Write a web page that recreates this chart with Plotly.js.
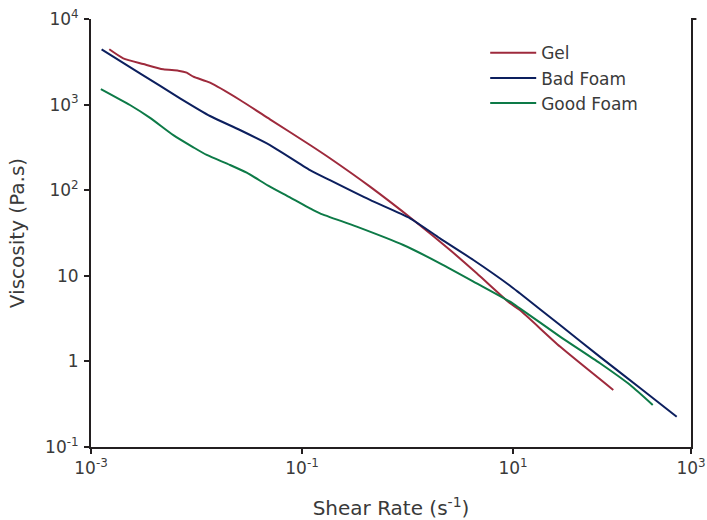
<!DOCTYPE html>
<html>
<head>
<meta charset="utf-8">
<script src="https://cdn.plot.ly/plotly-3.0.1.min.js"></script>
<style>
  html, body { margin: 0; padding: 0; background: #fff; }
  #chart { width: 707px; height: 520px; }
</style>
</head>
<body>
<div id="chart"></div>
<script>
// Shear rate (1/s) and viscosity (Pa.s)
const gelShear = [0.00149, 0.00202, 0.00313, 0.00484, 0.00672, 0.00807, 0.00933, 0.01343, 0.02584, 0.0497, 0.1191, 0.184, 0.441, 1.135, 2.53, 4.53, 9.38, 11.6, 27.9, 89.2];
const gelVisc  = [4427, 3475, 2981, 2584, 2489, 2360, 2118, 1803, 1132, 673, 337, 236, 110, 44.9, 20.0, 10.7, 4.77, 3.98, 1.49, 0.464];

const badShear = [0.00126, 0.00291, 0.00698, 0.01343, 0.0258, 0.0497, 0.119, 0.184, 0.441, 1.057, 2.03, 4.21, 9.38, 11.6, 27.9, 66.8, 160, 356];
const badVisc  = [4427, 2321, 1185, 736, 505, 337, 172, 131, 76.9, 47.0, 27.4, 15.3, 7.66, 6.25, 2.66, 1.13, 0.49, 0.226];

const goodShear = [0.00124, 0.00234, 0.00363, 0.00603, 0.00933, 0.0125, 0.0208, 0.0299, 0.0497, 0.0769, 0.119, 0.148, 0.330, 0.912, 2.03, 4.53, 9.38, 11.6, 27.9, 66.8, 129, 211];
const goodVisc  = [1521, 989, 700, 440, 317, 258, 197, 160, 110, 82.6, 61.5, 53.7, 37.5, 22.9, 14.0, 8.17, 4.98, 4.17, 1.95, 0.951, 0.530, 0.310];

const seriesNames = ["Gel", "Bad Foam", "Good Foam"];

const xTickVals = [1e-3, 1e-1, 1e1, Math.pow(10, 2.687)];
const xTickText = ["10<sup>-3</sup>", "10<sup>-1</sup>", "10<sup>1</sup>", "10<sup>3</sup>"];
const yTickVals = [0.1, 1, 10, 100, 1000, 10000];
const yTickText = ["10<sup>-1</sup>", "1", "10", "10<sup>2</sup>", "10<sup>3</sup>", "10<sup>4</sup>"];

const FONT = "'DejaVu Sans', Verdana, sans-serif";
const TEXT = "#3a3a3a";
const AXIS = "#231f20";
const colors = ["#9e2a3c", "#0c1f5e", "#0d7a47"];

const traces = [
  {x: gelShear, y: gelVisc, name: seriesNames[0]},
  {x: badShear, y: badVisc, name: seriesNames[1]},
  {x: goodShear, y: goodVisc, name: seriesNames[2]}
].map((t, i) => Object.assign(t, {
  type: "scatter", mode: "lines",
  line: {color: colors[i], width: 2, shape: "spline", smoothing: 0.6}
}));

const axisCommon = {
  type: "log",
  showgrid: false,
  zeroline: false,
  showline: true,
  linecolor: AXIS,
  linewidth: 2,
  ticks: "outside",
  ticklen: 5,
  tickwidth: 2,
  tickcolor: AXIS,
  tickmode: "array",
  tickfont: {family: FONT, size: 17, color: TEXT}
};

const layout = {
  width: 707, height: 520,
  margin: {l: 91, r: 16, t: 19, b: 73},
  paper_bgcolor: "#fff", plot_bgcolor: "#fff",
  font: {family: FONT, color: TEXT},
  showlegend: true,
  legend: {
    x: 0.657, y: 0.962, xanchor: "left", yanchor: "top",
    bgcolor: "rgba(0,0,0,0)",
    itemwidth: 46,
    font: {family: FONT, size: 17, color: TEXT},
    tracegroupgap: 0
  },
  xaxis: Object.assign({}, axisCommon, {
    range: [-3, 2.687],
    tickvals: xTickVals, ticktext: xTickText,
    title: {text: "Shear Rate (s<sup>-1</sup>)", font: {family: FONT, size: 20, color: TEXT}, standoff: 25}
  }),
  yaxis: Object.assign({}, axisCommon, {
    range: [-1, 4],
    mirror: true,
    ticklabelstandoff: 2,
    tickvals: yTickVals, ticktext: yTickText,
    title: {text: "Viscosity (Pa.s)", font: {family: FONT, size: 20, color: TEXT}, standoff: 15}
  }),
  shapes: [
    {type: "line", xref: "paper", yref: "paper", x0: 1, x1: 1.009, y0: 1, y1: 1,
     line: {color: AXIS, width: 2}}
  ]
};

Plotly.newPlot("chart", traces, layout, {displayModeBar: false, staticPlot: true});
</script>
</body>
</html>
